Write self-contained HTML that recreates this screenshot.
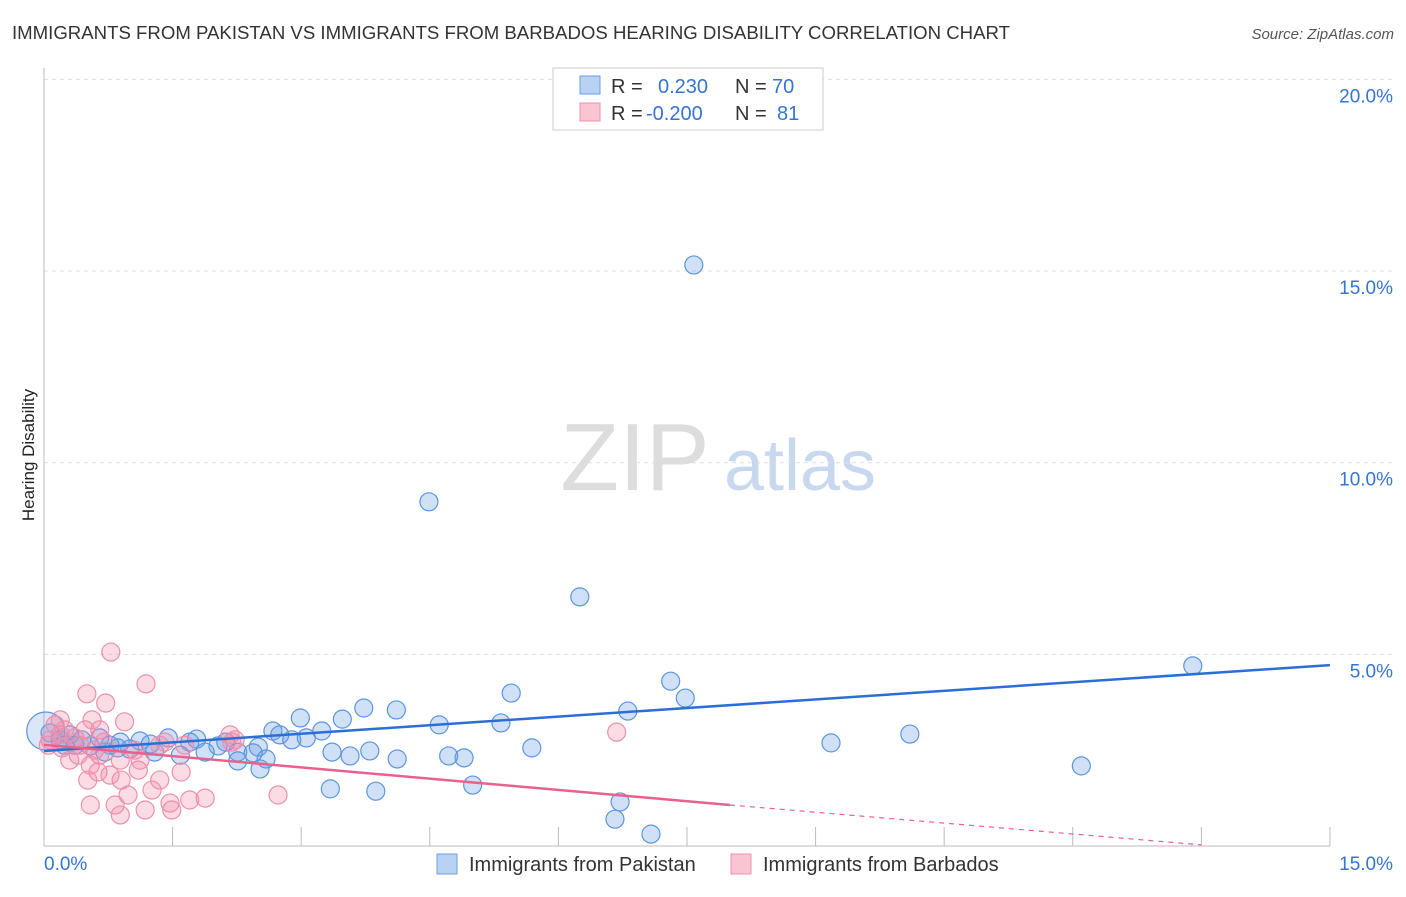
<!DOCTYPE html>
<html><head><meta charset="utf-8"><style>
body{margin:0;background:#fff;font-family:"Liberation Sans",sans-serif;}
svg text{font-family:"Liberation Sans",sans-serif;}
</style></head><body>
<svg id="chart" width="1406" height="892" xmlns="http://www.w3.org/2000/svg">
<text x="12" y="39" font-size="18" fill="#333" textLength="998" lengthAdjust="spacingAndGlyphs">IMMIGRANTS FROM PAKISTAN VS IMMIGRANTS FROM BARBADOS HEARING DISABILITY CORRELATION CHART</text>
<text x="1394" y="39" font-size="15" fill="#555" text-anchor="end" font-style="italic">Source: ZipAtlas.com</text>
<text transform="translate(34,455) rotate(-90)" font-size="17" fill="#222" text-anchor="middle">Hearing Disability</text>
<g>
<text x="635" y="490" font-size="96" fill="#ddd" text-anchor="middle" font-family="Liberation Serif,serif">ZIP</text>
<text x="800" y="490" font-size="72" fill="#c8d8ef" text-anchor="middle">atlas</text>
</g>
<g id="grid"></g><g id="axes"></g><g id="pts"></g><g id="lines"></g>
<g>
<rect x="553" y="68" width="270" height="62" fill="#fff" stroke="#ccc"/>
<rect x="580" y="76" width="20" height="18" fill="#b8d2f3" stroke="#6b9fe0"/>
<rect x="580" y="103" width="20" height="18" fill="#f9c5d3" stroke="#ee8fab"/>
<text x="611" y="93" font-size="20" fill="#333">R = </text><text x="658" y="93" font-size="20" fill="#3574d4">0.230</text>
<text x="735" y="93" font-size="20" fill="#333">N = </text><text x="772" y="93" font-size="20" fill="#3574d4">70</text>
<text x="611" y="120" font-size="20" fill="#333">R = </text><text x="646" y="120" font-size="20" fill="#3574d4">-0.200</text>
<text x="735" y="120" font-size="20" fill="#333">N = </text><text x="777" y="120" font-size="20" fill="#3574d4">81</text>
</g>
<g>
<rect x="437" y="854" width="20" height="20" fill="#b8d2f3" stroke="#6b9fe0"/>
<text x="469" y="871" font-size="20" fill="#333">Immigrants from Pakistan</text>
<rect x="731" y="854" width="20" height="20" fill="#f9c5d3" stroke="#ee8fab"/>
<text x="763" y="871" font-size="20" fill="#333">Immigrants from Barbados</text>
</g>
</svg>
<script>
const blueX=[7.58,4.49,6.25,13.40,7.31,7.48,5.45,6.81,3.73,4.11,3.48,2.99,4.61,5.33,3.24,2.67,2.75,2.89,3.06,1.78,1.45,1.12,2.12,2.50,2.03,1.70,2.26,2.44,1.88,1.59,1.29,1.00,0.86,0.71,0.54,0.36,0.19,0.07,5.69,4.90,4.72,3.57,3.80,3.36,4.12,2.59,2.26,2.52,12.10,9.18,10.10,3.34,3.87,5.00,6.72,6.66,7.08,0.30,0.44,0.77,1.24,0.89,0.24,0.65];
const blueY=[15.16,8.98,6.50,4.70,4.30,3.86,3.99,3.52,3.60,3.55,3.31,3.34,3.16,3.21,3.00,3.00,2.90,2.77,2.82,2.79,2.82,2.74,2.71,2.58,2.61,2.71,2.45,2.43,2.45,2.37,2.45,2.53,2.56,2.45,2.61,2.63,2.77,2.95,2.56,2.30,2.35,2.35,2.48,2.45,2.27,2.27,2.22,2.01,2.09,2.69,2.92,1.49,1.43,1.59,1.15,0.70,0.31,2.90,2.77,2.63,2.66,2.71,2.63,2.82];
const pinkX=[0.78,1.19,0.50,0.72,0.94,6.68,2.23,0.19,0.42,0.59,0.24,0.36,0.13,0.07,0.65,0.89,0.54,0.63,1.10,0.77,1.35,1.60,1.26,0.90,0.98,0.54,0.83,1.47,1.88,1.70,2.73,0.89,1.18,1.49,0.51,0.30,0.48,1.06,1.35,2.17,0.65,0.05,0.21,0.40,0.70,1.12,1.41,1.64,2.19,0.19,0.56];
const pinkY=[5.06,4.23,3.97,3.73,3.24,2.97,2.77,2.90,2.63,2.50,3.03,2.82,3.16,2.77,2.37,2.24,2.11,1.93,1.98,1.85,1.72,1.93,1.46,1.72,1.33,1.07,1.07,1.12,1.25,1.20,1.33,0.81,0.94,0.94,1.72,2.24,3.03,2.50,2.63,2.90,3.03,2.63,2.56,2.37,2.71,2.24,2.71,2.63,2.71,3.29,3.29];
const bigBlueX=[0.02];
const bigBlueY=[3.0];
const blueTrendX=[0,15];
const blueTrendY=[2.48,4.72];
const pinkTrendX=[0,8,13.5];
const pinkTrendY=[2.64,1.07,0.03];
const yTicks=[5,10,15,20];
const yTickLabels=["5.0%","10.0%","15.0%","20.0%"];
const xTicks=[1.5,3,4.5,6,7.5,9,10.5,12,13.5,15];
const NS="http://www.w3.org/2000/svg";
const X=v=>44+v*85.73, Y=v=>846-v*38.33;
function mk(p,t,a){const e=document.createElementNS(NS,t);for(const k in a)e.setAttribute(k,a[k]);p.appendChild(e);return e;}
const grid=document.getElementById('grid'),axes=document.getElementById('axes'),pts=document.getElementById('pts'),lines=document.getElementById('lines');
yTicks.forEach((t,i)=>{
 const l=mk(grid,'line',{x1:44,x2:1394,y1:Y(t),y2:Y(t),stroke:'#ddd','stroke-dasharray':'4,4'});
 
 
 const tx=mk(axes,'text',{x:1393,y:Y(t)+23,'font-size':19,fill:'#3574d4','text-anchor':'end'});
 tx.textContent=yTickLabels[i];
 
 
});
const ya=mk(axes,'line',{x1:44,x2:44,y1:68,y2:846,stroke:'#bbb'});


const xa=mk(axes,'line',{x1:44,x2:1330,y1:846,y2:846,stroke:'#bbb'});


xTicks.forEach(t=>{
 const l=mk(axes,'line',{x1:X(t),x2:X(t),y1:827,y2:846,stroke:'#bbb'});
 
 
});
const xl0=mk(axes,'text',{x:44,y:870,'font-size':19,fill:'#3574d4'});xl0.textContent='0.0%';


const xl1=mk(axes,'text',{x:1393,y:870,'font-size':19,fill:'#3574d4','text-anchor':'end'});xl1.textContent='15.0%';


bigBlueX.forEach((v,i)=>{
 const c=mk(pts,'circle',{cx:X(v),cy:Y(bigBlueY[i]),r:19,fill:'rgba(110,160,228,0.25)',stroke:'#5b95df','stroke-width':1.2});
 
 
});
blueX.forEach((v,i)=>{
 const c=mk(pts,'circle',{cx:X(v),cy:Y(blueY[i]),r:9,fill:'rgba(110,160,228,0.32)',stroke:'#5b95df','stroke-width':1.2});
 
 
});
pinkX.forEach((v,i)=>{
 const c=mk(pts,'circle',{cx:X(v),cy:Y(pinkY[i]),r:9,fill:'rgba(242,140,170,0.3)',stroke:'#ee8fab','stroke-width':1.2});
 
 
});
const bl=mk(lines,'line',{x1:X(blueTrendX[0]),y1:Y(blueTrendY[0]),x2:X(blueTrendX[1]),y2:Y(blueTrendY[1]),stroke:'#2b6fd6','stroke-width':2.5});


const pl=mk(lines,'line',{x1:X(pinkTrendX[0]),y1:Y(pinkTrendY[0]),x2:X(pinkTrendX[1]),y2:Y(pinkTrendY[1]),stroke:'#e8618e','stroke-width':2.5});


const pd=mk(lines,'line',{x1:X(pinkTrendX[1]),y1:Y(pinkTrendY[1]),x2:X(pinkTrendX[2]),y2:Y(pinkTrendY[2]),stroke:'#e8618e','stroke-width':1.2,'stroke-dasharray':'5,5'});


</script>
</body></html>
